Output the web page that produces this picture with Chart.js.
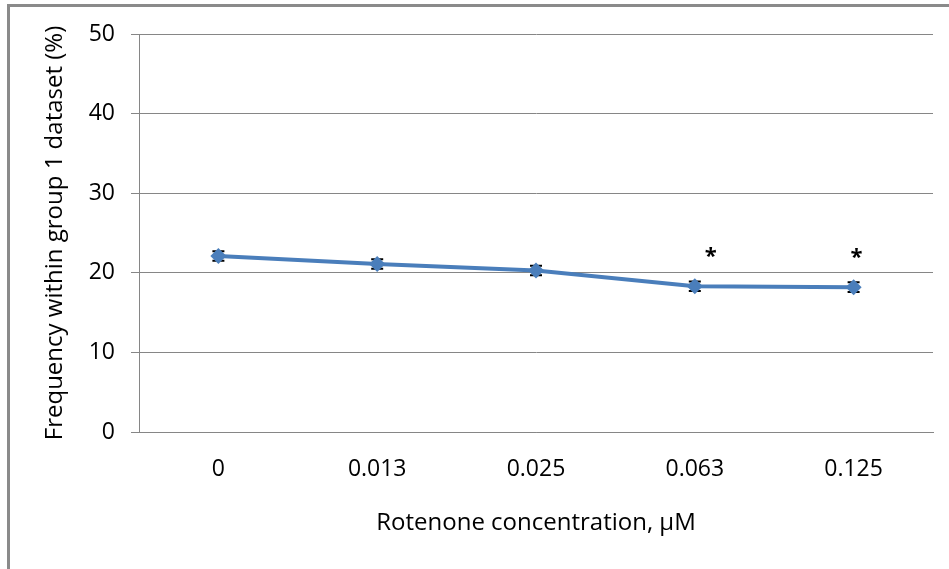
<!DOCTYPE html>
<html>
<head>
<meta charset="utf-8">
<script src="https://cdn.jsdelivr.net/npm/chart.js@4.4.1/dist/chart.umd.min.js"></script>
<style>
  html, body { margin: 0; padding: 0; background: #fff; }
  #wrap { position: relative; width: 949px; height: 569px; }
  #frame { position: absolute; left: 7px; top: 4px; right: 0; bottom: 0;
           border-left: 3px solid #8a8a8a; border-top: 3px solid #8a8a8a; pointer-events: none; }
  canvas { position: absolute; left: 0; top: 0; }
</style>
</head>
<body>
<div id="wrap">
  <canvas id="c" width="949" height="569"></canvas>
  <div id="frame"></div>
</div>
<script>
const categories = ['0', '0.013', '0.025', '0.063', '0.125'];
const frequency = [22.1, 21.1, 20.3, 18.3, 18.2];
const errors = [0.6, 0.6, 0.6, 0.6, 0.6];
const significance = ['', '', '', '*', '*'];
const yTicks = [0, 10, 20, 30, 40, 50];

const FONT = '"Open Sans", "DejaVu Sans", sans-serif';

const errorBarPlugin = {
  id: 'errorBars',
  beforeDatasetsDraw(chart) {
    const ctx = chart.ctx;
    const meta = chart.getDatasetMeta(0);
    const ys = chart.scales.y;
    ctx.save();
    ctx.strokeStyle = '#000';
    ctx.lineWidth = 2;
    meta.data.forEach((pt, i) => {
      const v = frequency[i], e = errors[i];
      const yTop = ys.getPixelForValue(v + e);
      const yBot = ys.getPixelForValue(v - e);
      ctx.beginPath();
      ctx.moveTo(pt.x, yTop); ctx.lineTo(pt.x, yBot);
      ctx.moveTo(pt.x - 6, yTop); ctx.lineTo(pt.x + 6, yTop);
      ctx.moveTo(pt.x - 6, yBot); ctx.lineTo(pt.x + 6, yBot);
      ctx.stroke();
    });
    ctx.restore();
  }
};

const sigPlugin = {
  id: 'sigMarks',
  afterDatasetsDraw(chart, args, opts) {
    const ctx = chart.ctx;
    const meta = chart.getDatasetMeta(0);
    const ys = chart.scales.y;
    ctx.save();
    ctx.fillStyle = '#000';
    ctx.font = 'bold 22px ' + FONT;
    ctx.textAlign = 'center';
    ctx.textBaseline = 'middle';
    meta.data.forEach((pt, i) => {
      if (!significance[i]) return;
      const dx = (opts.dx && opts.dx[i]) || 0;
      ctx.fillText(significance[i], pt.x + dx, ys.getPixelForValue(frequency[i] + 4.2) + 4);
    });
    ctx.restore();
  }
};

new Chart(document.getElementById('c'), {
  type: 'line',
  data: {
    labels: categories,
    datasets: [{
      data: frequency,
      borderColor: '#4a7ebb',
      backgroundColor: '#4a7ebb',
      borderWidth: 4,
      pointStyle: 'rectRot',
      pointRadius: 8,
      pointBorderWidth: 0,
      pointBackgroundColor: '#4a7ebb',
      tension: 0,
      fill: false
    }]
  },
  options: {
    responsive: false,
    animation: false,
    devicePixelRatio: 1,
    layout: { padding: { left: 10, top: 34, right: 16, bottom: 10 } },
    plugins: {
      legend: { display: false },
      tooltip: { enabled: false },
      sigMarks: { dx: [0, 0, 0, 16, 3] }
    },
    scales: {
      x: {
        type: 'category',
        offset: true,
        grid: { display: false, drawTicks: false, offset: true },
        border: { display: true, color: '#868686', width: 1 },
        ticks: { color: '#000', font: { family: FONT, size: 23 }, padding: 24, maxRotation: 0 },
        title: { display: true, text: 'Rotenone concentration, μM', color: '#000',
                 font: { family: FONT, size: 24 }, padding: { top: 10, bottom: 21 } },
        afterFit(s) { s.height = 569 - 432 - 10; }
      },
      y: {
        min: 0, max: 50,
        afterBuildTicks(s) { s.ticks = yTicks.map(v => ({ value: v })); },
        grid: { color: '#868686', lineWidth: 1, tickLength: 8, drawTicks: true },
        border: { display: true, color: '#868686', width: 1 },
        ticks: { color: '#000', font: { family: FONT, size: 23 }, padding: 16 },
        title: { display: true, text: 'Frequency within group 1 dataset (%)', color: '#000',
                 font: { family: FONT, size: 24 }, padding: { top: 31, bottom: 0 } },
        afterFit(s) { s.width = 139 - 10; }
      }
    }
  },
  plugins: [errorBarPlugin, sigPlugin]
});
</script>
</body>
</html>
